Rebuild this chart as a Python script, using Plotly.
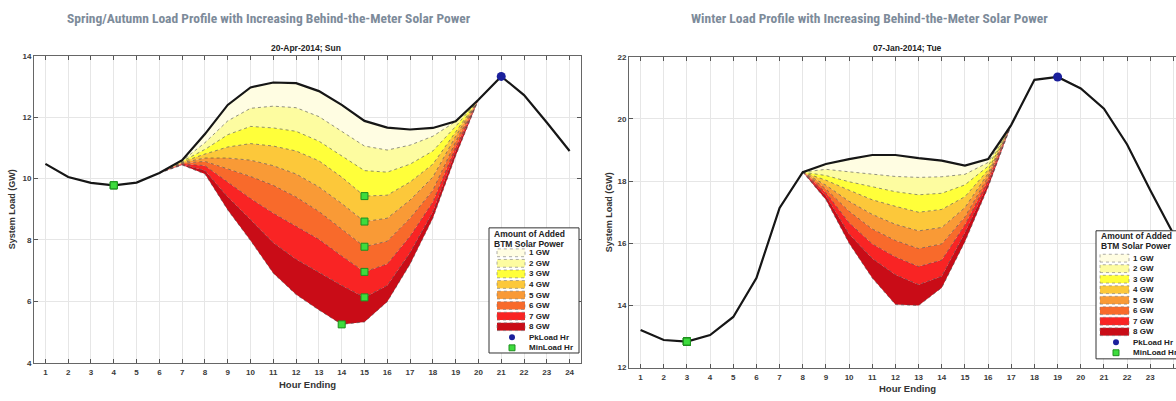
import plotly.graph_objects as go
import numpy as np

# ---------------- data ----------------
hours = list(range(1, 25))
tick_hours = list(range(1, 25))

spring_base = [10.48, 10.05, 9.86, 9.78, 9.87, 10.18, 10.60, 11.45, 12.40, 12.97, 13.13, 13.11,
               12.85, 12.40, 11.88, 11.66, 11.60, 11.65, 11.87, 12.57, 13.33, 12.72, 11.83, 10.90]
spring_band_hours = list(range(6, 21))
spring_1gw = [10.18, 10.58, 11.17, 11.88, 12.29, 12.36, 12.31, 12.02, 11.54, 11.06, 10.93, 11.09, 11.38, 11.86, 12.57]
spring_2gw = [10.18, 10.56, 10.95, 11.43, 11.70, 11.65, 11.54, 11.22, 10.74, 10.26, 10.21, 10.47, 10.90, 11.70, 12.57]
spring_3gw = [10.18, 10.54, 10.80, 11.03, 11.14, 11.06, 10.90, 10.58, 10.05, 9.43, 9.46, 9.89, 10.47, 11.54, 12.57]
spring_4gw = [10.18, 10.52, 10.67, 10.67, 10.60, 10.42, 10.15, 9.73, 9.19, 8.60, 8.71, 9.30, 10.05, 11.38, 12.57]
spring_5gw = [10.18, 10.50, 10.56, 10.31, 10.07, 9.78, 9.40, 8.93, 8.34, 7.78, 7.96, 8.71, 9.62, 11.20, 12.57]
spring_6gw = [10.18, 10.48, 10.42, 9.89, 9.35, 8.87, 8.44, 8.02, 7.48, 6.96, 7.22, 8.12, 9.24, 11.03, 12.57]
spring_7gw = [10.18, 10.46, 10.26, 9.40, 8.66, 7.91, 7.37, 6.95, 6.52, 6.13, 6.52, 7.59, 8.92, 10.90, 12.57]
spring_8gw = [10.18, 10.44, 10.15, 8.98, 7.98, 6.92, 6.22, 5.72, 5.25, 5.33, 5.99, 7.21, 8.71, 10.74, 12.57]

winter_base = [13.21, 12.89, 12.84, 13.05, 13.63, 14.88, 17.14, 18.29, 18.55, 18.71, 18.84, 18.84,
               18.74, 18.66, 18.50, 18.71, 19.81, 21.26, 21.35, 20.98, 20.33, 19.18, 17.71, 16.30]
winter_band_hours = list(range(8, 18))
winter_1gw = [18.29, 18.38, 18.30, 18.22, 18.15, 18.12, 18.14, 18.22, 18.60, 19.81]
winter_2gw = [18.29, 18.18, 17.98, 17.82, 17.66, 17.56, 17.61, 17.88, 18.48, 19.81]
winter_3gw = [18.29, 18.03, 17.71, 17.40, 17.19, 17.00, 17.09, 17.50, 18.36, 19.81]
winter_4gw = [18.29, 17.87, 17.35, 16.93, 16.61, 16.40, 16.51, 17.15, 18.25, 19.81]
winter_5gw = [18.29, 17.75, 17.03, 16.46, 16.09, 15.83, 15.98, 16.85, 18.14, 19.81]
winter_6gw = [18.29, 17.63, 16.66, 15.98, 15.56, 15.25, 15.46, 16.60, 18.03, 19.81]
winter_7gw = [18.29, 17.52, 16.30, 15.51, 14.99, 14.67, 14.94, 16.35, 17.92, 19.81]
winter_8gw = [18.29, 17.40, 16.00, 14.88, 14.03, 14.00, 14.57, 16.05, 17.80, 19.81]

level_labels = ["1 GW", "2 GW", "3 GW", "4 GW", "5 GW", "6 GW", "7 GW", "8 GW"]
legend_title_lines = ["Amount of Added", "BTM Solar Power"]
peak_label = "PkLoad Hr"
min_label = "MinLoad Hr"

spring_levels = [spring_1gw, spring_2gw, spring_3gw, spring_4gw, spring_5gw, spring_6gw, spring_7gw, spring_8gw]
winter_levels = [winter_1gw, winter_2gw, winter_3gw, winter_4gw, winter_5gw, winter_6gw, winter_7gw, winter_8gw]

# ---------------- style ----------------
W, H = 1176, 401
band_colors = ['#fffde2', '#fdfca0', '#ffff3a', '#fcc83a', '#f99a36', '#f86a2b', '#f92424', '#c90c17']
FONT = "Liberation Sans, Arial, sans-serif"
TITLE_FONT = "Liberation Sans Narrow, Roboto Condensed, Liberation Sans, sans-serif"
PEAK_COLOR = '#1b209c'
MIN_FILL = '#3ddc3d'
MIN_LINE = '#1f8f1f'

def px(x):
    return x / W

def py(y):
    return 1 - y / H

fig = go.Figure()

def add_panel(xa, ya, base, band_hours, levels):
    i0 = band_hours[0] - 1
    i1 = band_hours[-1]
    top = base[i0:i1]
    fig.add_trace(go.Scatter(x=band_hours, y=top, mode='lines', line=dict(width=0, color='rgba(0,0,0,0)'),
                             showlegend=False, hoverinfo='skip', xaxis=xa, yaxis=ya))
    for k, lv in enumerate(levels):
        fig.add_trace(go.Scatter(x=band_hours, y=lv, mode='lines', fill='tonexty', fillcolor=band_colors[k],
                                 line=dict(color='#4a4a4a', width=0.6, dash='dot'),
                                 showlegend=False, name=level_labels[k], xaxis=xa, yaxis=ya))
    fig.add_trace(go.Scatter(x=hours, y=base, mode='lines', line=dict(color='#161616', width=2.2),
                             showlegend=False, xaxis=xa, yaxis=ya))
    # min load markers for base and each level
    mx, my = [], []
    for lv in [None] + levels:
        full = np.array(base, dtype=float)
        if lv is not None:
            full[i0:i1] = lv
        j = int(np.argmin(full))
        mx.append(hours[j])
        my.append(full[j])
    fig.add_trace(go.Scatter(x=mx, y=my, mode='markers',
                             marker=dict(symbol='square', size=7, color=MIN_FILL, line=dict(color=MIN_LINE, width=1)),
                             showlegend=False, xaxis=xa, yaxis=ya))
    j = int(np.argmax(base))
    fig.add_trace(go.Scatter(x=[hours[j]], y=[base[j]], mode='markers',
                             marker=dict(symbol='circle', size=9, color=PEAK_COLOR),
                             showlegend=False, xaxis=xa, yaxis=ya))

add_panel('x', 'y', spring_base, spring_band_hours, spring_levels)
add_panel('x2', 'y2', winter_base, winter_band_hours, winter_levels)

shapes = []
annotations = []

def add_legend(bx0, bx1, by0, by1, title_y, item_y0, step, sw_x0, sw_x1, lab_x, mk_x):
    shapes.append(dict(type='rect', xref='paper', yref='paper', x0=px(bx0), x1=px(bx1), y0=py(by1), y1=py(by0),
                       fillcolor='white', line=dict(color='#333333', width=1), layer='above'))
    for t, line_txt in enumerate(legend_title_lines):
        annotations.append(dict(xref='paper', yref='paper', x=px(bx0 + 3), y=py(title_y + t * 10), xanchor='left',
                                yanchor='middle', text=line_txt, showarrow=False,
                                font=dict(family=FONT, size=8.5, color='#222222', weight='bold')))
    for i in range(10):
        yc = item_y0 + i * step
        if i < 8:
            shapes.append(dict(type='rect', xref='paper', yref='paper', x0=px(sw_x0), x1=px(sw_x1),
                               y0=py(yc + 4), y1=py(yc - 4), fillcolor=band_colors[i],
                               line=dict(color='#777777', width=0.6, dash='dot'), layer='above'))
            txt = level_labels[i]
        elif i == 8:
            r = 3
            shapes.append(dict(type='circle', xref='paper', yref='paper', x0=px(mk_x - r), x1=px(mk_x + r),
                               y0=py(yc + r), y1=py(yc - r), fillcolor=PEAK_COLOR, line=dict(color=PEAK_COLOR, width=0),
                               layer='above'))
            txt = peak_label
        else:
            r = 3
            shapes.append(dict(type='rect', xref='paper', yref='paper', x0=px(mk_x - r), x1=px(mk_x + r),
                               y0=py(yc + r), y1=py(yc - r), fillcolor=MIN_FILL, line=dict(color=MIN_LINE, width=1),
                               layer='above'))
            txt = min_label
        annotations.append(dict(xref='paper', yref='paper', x=px(lab_x), y=py(yc), xanchor='left', yanchor='middle',
                                text=txt, showarrow=False,
                                font=dict(family=FONT, size=8, color='#222222', weight='bold')))

add_legend(489, 579, 229, 357, 235, 254.5, 10.8, 497, 525, 527, 512)
add_legend(1096, 1192, 232, 363, 237.5, 260, 10.75, 1100, 1129, 1131, 1116)

# titles
annotations += [
    dict(xref='paper', yref='paper', x=px(269), y=py(14), xanchor='center', yanchor='middle', showarrow=False,
         text="Spring/Autumn Load Profile with Increasing Behind-the-Meter Solar Power",
         font=dict(family=TITLE_FONT, size=13.5, color='#7d8b9a', weight='bold')),
    dict(xref='paper', yref='paper', x=px(869), y=py(14), xanchor='center', yanchor='middle', showarrow=False,
         text="Winter Load Profile with Increasing Behind-the-Meter Solar Power",
         font=dict(family=TITLE_FONT, size=13.5, color='#7d8b9a', weight='bold')),
    dict(xref='paper', yref='paper', x=px(306), y=py(45), xanchor='center', yanchor='middle', showarrow=False,
         text="20-Apr-2014; Sun", font=dict(family=FONT, size=8.5, color='#222222', weight='bold')),
    dict(xref='paper', yref='paper', x=px(907), y=py(45), xanchor='center', yanchor='middle', showarrow=False,
         text="07-Jan-2014; Tue", font=dict(family=FONT, size=8.5, color='#222222', weight='bold')),
    dict(xref='paper', yref='paper', x=px(307), y=py(389), xanchor='center', yanchor='middle', showarrow=False,
         text="Hour Ending", font=dict(family=FONT, size=9.5, color='#333333', weight='bold')),
    dict(xref='paper', yref='paper', x=px(907), y=py(393.5), xanchor='center', yanchor='middle', showarrow=False,
         text="Hour Ending", font=dict(family=FONT, size=9.5, color='#333333', weight='bold')),
    dict(xref='paper', yref='paper', x=px(12), y=py(210), xanchor='center', yanchor='middle', showarrow=False,
         text="System Load (GW)", textangle=-90, font=dict(family=FONT, size=9, color='#333333', weight='bold')),
    dict(xref='paper', yref='paper', x=px(609), y=py(213), xanchor='center', yanchor='middle', showarrow=False,
         text="System Load (GW)", textangle=-90, font=dict(family=FONT, size=9, color='#333333', weight='bold')),
]

tickfont = dict(family=FONT, size=8, color='#3a3a3a', weight='bold')
axis_common = dict(showline=True, linecolor='#666666', linewidth=1, ticks='inside', ticklen=4, tickcolor='#555555',
                   showgrid=True, gridcolor='#e6e6e6', gridwidth=1, zeroline=False, tickfont=tickfont)

fig.update_layout(
    width=W, height=H, margin=dict(l=0, r=0, t=0, b=0),
    paper_bgcolor='white', plot_bgcolor='white', showlegend=False,
    xaxis=dict(domain=[px(34), px(581)], range=[0.5, 24.5], tickvals=tick_hours, mirror='ticks', anchor='y',
               ticklabelstandoff=2, **axis_common),
    yaxis=dict(domain=[py(367), py(53)], range=[4, 14], tickvals=[4, 6, 8, 10, 12, 14], mirror='ticks', anchor='x',
               **axis_common),
    xaxis2=dict(domain=[px(629), 1.0], range=[0.5, 24.11], tickvals=tick_hours, mirror='ticks', anchor='y2',
                ticklabelstandoff=2, **axis_common),
    yaxis2=dict(domain=[py(372), py(54)], range=[12, 22], tickvals=[12, 14, 16, 18, 20, 22], mirror=False, anchor='x2',
                **axis_common),
    shapes=shapes, annotations=annotations,
)

fig.write_html("out.html")
